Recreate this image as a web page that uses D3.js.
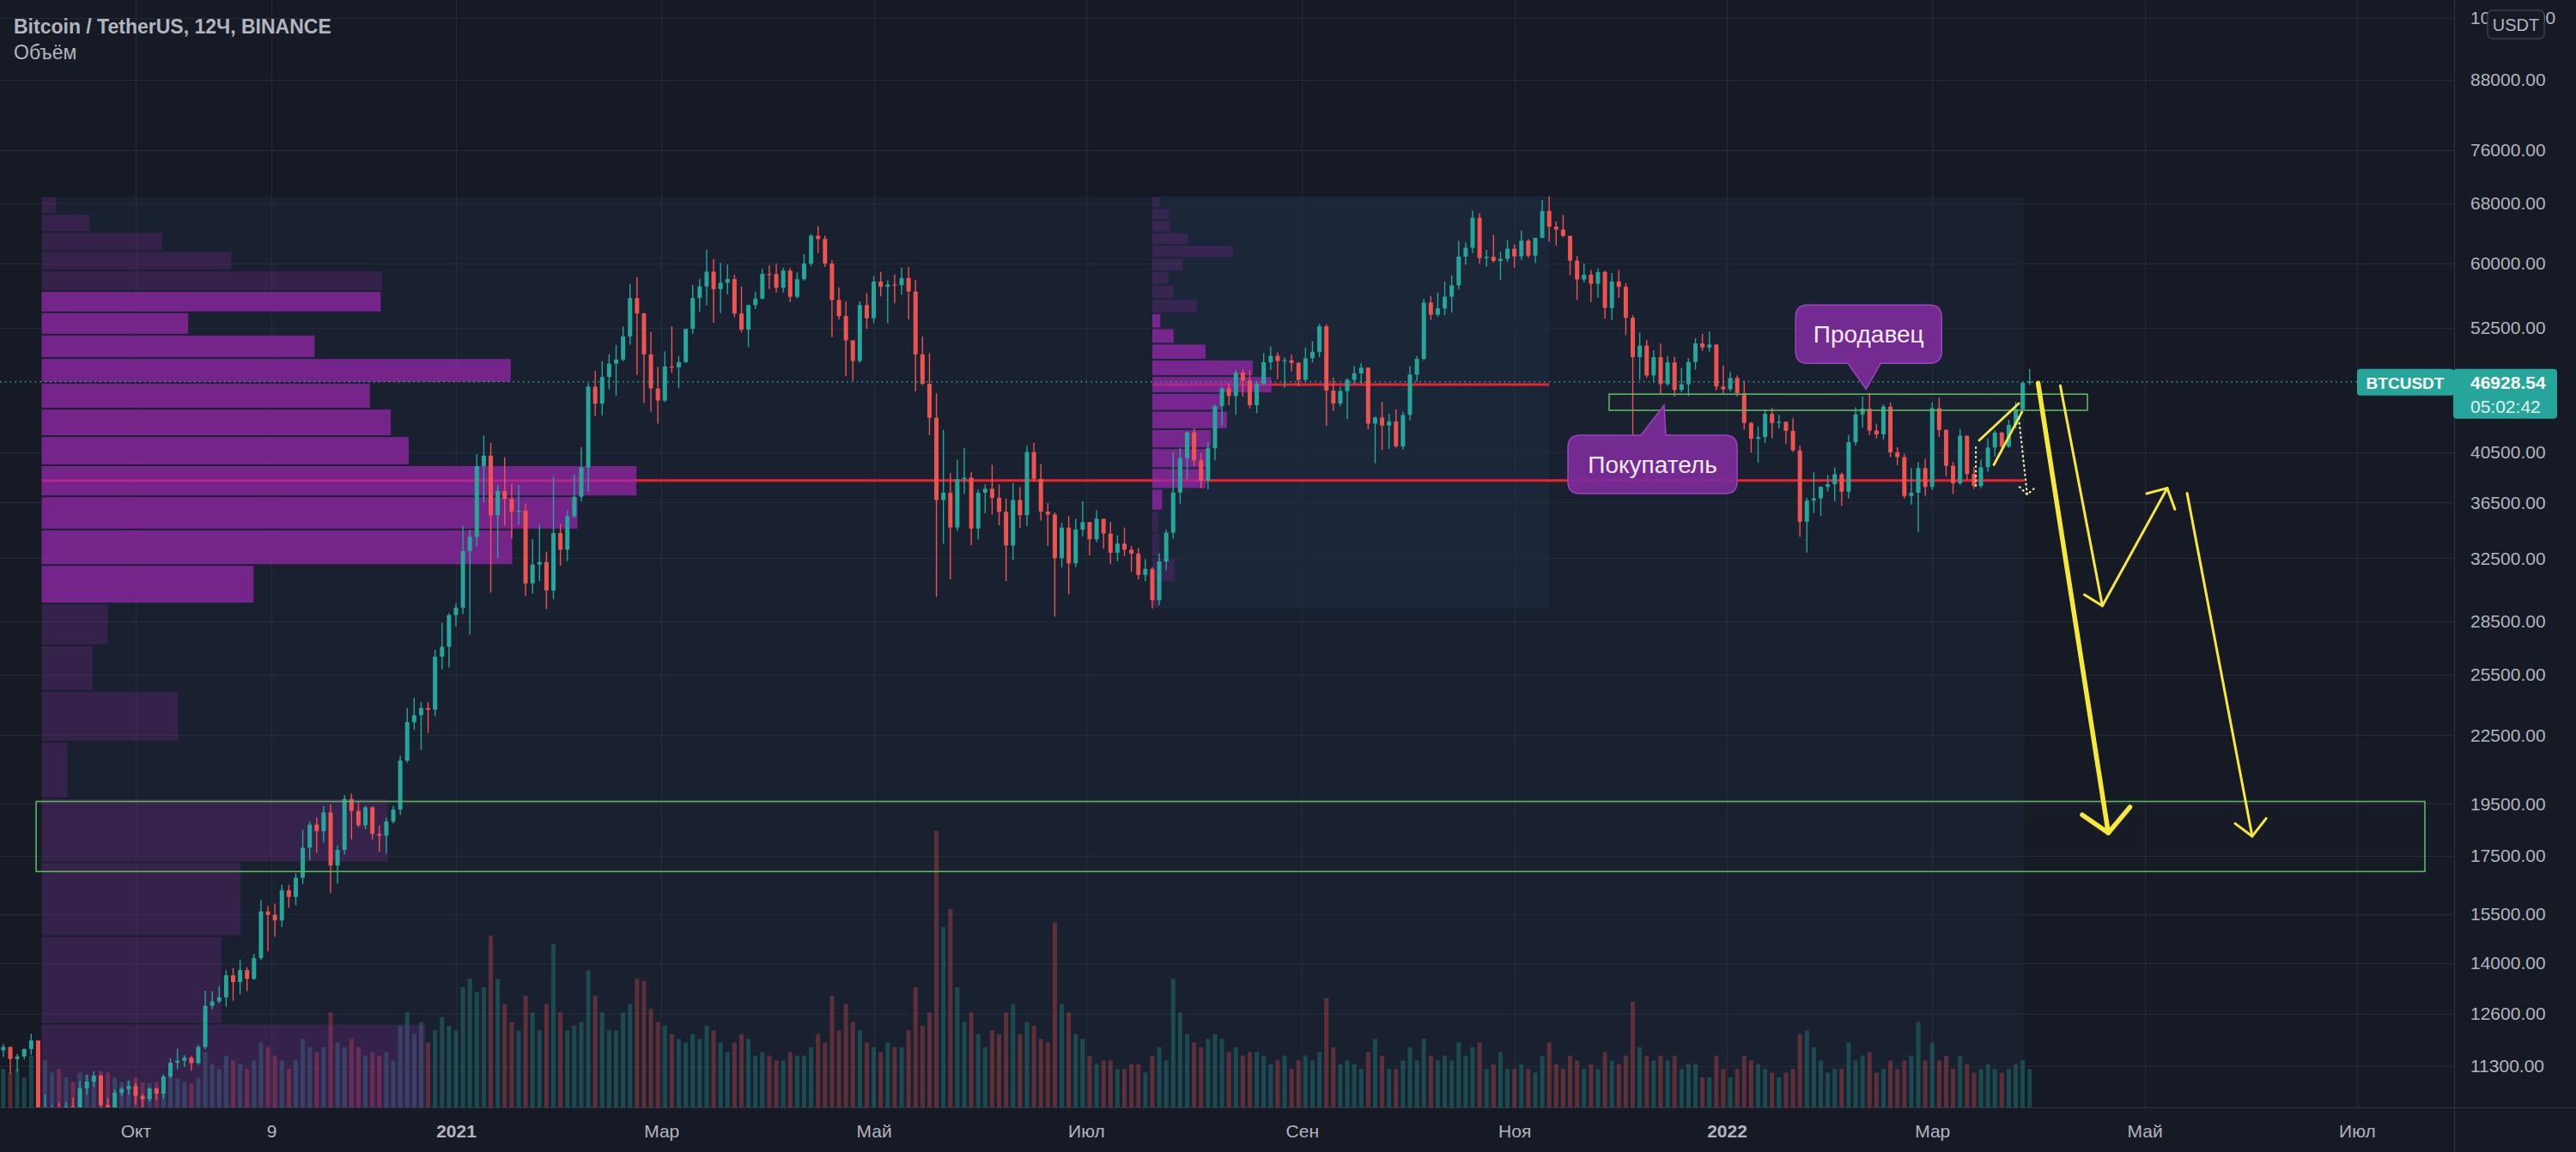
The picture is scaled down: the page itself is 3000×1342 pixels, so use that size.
<!DOCTYPE html>
<html><head><meta charset="utf-8">
<script src="https://cdn.jsdelivr.net/npm/d3@7/dist/d3.min.js"></script>
<style>
html,body{margin:0;padding:0;background:#161a25;overflow:hidden}
svg{display:block}
text{font-family:"Liberation Sans",Arial,sans-serif}
</style></head><body>
<svg id="chart" width="3000" height="1342"></svg>
<script>
// ---------- DATA ----------
const title = "Bitcoin / TetherUS, 12Ч, BINANCE";
const subTitle = "Объём";
const symbol = "BTCUSDT";
const currency = "USDT";
const lastPrice = 46928.54;
const countdown = "05:02:42";

// 2-day candles starting 2020-08-23 (open of first = previous close)
const candleStart = "2020-08-23";
const firstOpen = 11680;
const closes = [
11760,11470,11530,11710,11920,10170,10170,10370,10230,10390,
10330,10790,10940,11080,10420,10240,10690,10775,10840,10620,
10550,10790,10670,11060,11380,11430,11500,11370,11760,12810,
12930,13040,13650,13460,13800,13550,14150,15590,15480,15300,
16290,16070,16720,17800,18680,18420,19160,17150,17720,19700,
19220,18650,19360,18320,18250,18800,19270,21340,23110,23450,
23800,23720,26490,27040,28880,29330,33000,33990,39370,40240,
35540,37390,36770,35800,35890,30850,32080,32250,30400,34250,
33090,35470,36940,39260,46450,44840,47390,48720,49140,51570,
55850,54090,49680,46280,45130,48440,48370,48880,52380,55850,
57220,59000,56900,57660,58100,54080,52300,55040,55780,58730,
58720,57060,59130,56000,58090,60000,63580,63160,60000,55630,
53790,51150,49000,55040,53560,57800,57170,57440,57360,58230,
56610,49680,46720,43540,36690,37250,34650,38320,38440,34580,
37250,37560,36860,35800,33380,36690,35550,40530,38350,35820,
35600,32510,34640,32160,34500,35040,33810,35290,34220,32880,
33510,33090,32820,31390,31790,29790,32290,34290,37270,40030,
42240,39850,38200,40870,44610,46290,45550,47830,47050,44700,
46720,48870,49520,48990,49070,48810,47110,49280,49940,52660,
46080,44850,46030,47110,47750,48310,43010,43560,42840,43210,
41030,43790,47640,49220,55320,53950,54660,56010,57350,60880,
62010,66000,60690,60860,60330,60590,61890,60910,62930,61000,
63300,66940,64800,64390,63560,60370,58050,58620,57540,58960,
54720,57810,57180,53600,49400,50590,47550,49390,46700,48860,
46130,46680,48900,50820,50400,50700,46460,46200,47290,45830,
43080,41680,41820,43900,43070,43180,42370,40680,35070,36650,
36820,37710,37920,38710,37330,41380,43840,44370,42390,42060,
44560,40520,40120,37000,37250,39210,37700,44420,42450,39400,
37990,41940,38730,37780,39280,40920,42200,41000,42890,44310,
46820,46928.54];
const highs = [
11830,11770,11590,11720,12090,11930,10650,10420,10470,10480,
10580,10950,11100,11180,11100,10580,10770,10820,10950,10920,
10660,10800,10800,11110,11490,11720,11560,11540,11820,13220,
13200,13350,13790,13860,14100,13880,14270,15970,15770,15840,
16480,16480,16880,18480,18800,18960,19420,19480,17880,19860,
19920,19570,19420,19400,18640,18950,19410,21560,23800,24300,
24100,24100,26870,28420,29000,29600,34780,34500,40360,41950,
41350,37860,40100,37950,37850,36420,33830,34880,32950,38500,
34930,35900,38700,40950,46800,48000,48980,49700,50650,52640,
57500,58350,54180,52040,48400,50000,52640,49500,52400,57400,
58150,61780,60600,60100,59880,58600,57200,55100,56600,59370,
59800,60000,59500,59450,58900,61200,63800,64850,63600,60400,
57100,55450,51150,55470,56430,58450,58980,57970,58650,59500,
59600,58000,51550,49800,45800,42450,38800,39900,40900,38900,
37500,37900,39480,37900,36800,38000,37680,41060,41330,39550,
36450,35750,35000,35480,35300,36600,35050,35950,35300,35050,
34100,34650,33350,33200,32450,31900,32850,34500,40550,40900,
42320,42600,40500,41400,44750,46450,46800,48100,48150,48050,
47000,49800,50500,49880,49350,49650,48900,50400,51050,52920,
52900,47350,46450,47250,48480,48800,48370,43650,45000,43900,
44300,44100,48500,49500,55750,56100,56500,57800,58550,62930,
62700,67000,66650,61750,63700,61500,62970,62450,64270,63150,
63300,68500,69000,65500,66400,63600,60950,60000,59200,59400,
59150,58850,59200,57600,53900,51950,51200,50100,50800,49500,
49450,48300,49300,51380,51850,52090,50700,48550,47950,47550,
47050,43150,42750,44300,44450,43800,43200,43500,41100,36850,
38900,37750,38650,39250,38850,42000,44500,45500,45850,43000,
44750,44950,40950,40400,39250,39700,40000,44950,45400,42500,
39700,42550,41950,39300,39900,41700,42400,42300,43350,45000,
46950,48190];
const lows = [
11520,11120,11170,11460,11570,10000,9880,9880,9860,10130,
10210,10260,10650,10830,10370,10140,10200,10620,10650,10430,
10370,10500,10530,10560,11020,11230,11280,11200,11330,11700,
12720,12880,12790,12950,13120,13210,13520,14090,14350,14800,
15100,15710,15790,16500,17340,17610,18000,16200,16520,17550,
18110,18580,18500,18100,17650,17580,18720,19050,21240,22750,
21820,22600,23400,25800,25900,28200,28950,27730,33300,36500,
30260,32530,34800,33850,34850,30070,30200,31000,29240,29850,
32000,32300,35380,36570,37350,43700,43740,46200,45600,48950,
50700,47620,44900,44100,43000,45000,47800,46300,48800,51850,
54300,55000,53050,54120,56300,53650,52000,50430,54600,55700,
56900,56500,56500,55400,55800,57900,59700,61300,59580,51500,
53400,47500,47000,48800,52400,53000,56050,53000,55250,56240,
53400,46000,46600,42000,30000,33500,31100,34400,37150,33400,
33800,35700,35600,34800,31000,32400,34600,34750,38100,35150,
33350,28800,31900,30150,31900,34030,32700,33600,33150,32100,
32300,32650,31600,31100,31000,29280,29500,31700,33850,36400,
38300,39400,37600,37500,39850,42800,44700,43800,45500,44400,
43950,46600,48100,47150,46350,47950,46500,46950,48850,49400,
42800,44150,44600,43400,46700,46750,42500,39600,40700,40800,
40900,40750,43300,46950,49050,53350,53700,53900,54200,56850,
59850,61350,60000,59600,60100,58000,60200,59500,60400,60700,
60100,63250,62800,62300,63400,58550,55600,57700,55400,55900,
53500,53350,55900,51700,42000,47100,47300,46850,45700,46550,
45500,45900,45550,48100,50050,49950,46100,45700,46000,45500,
42500,40500,39650,41300,41700,42600,41250,40550,34000,32900,
35700,35500,37350,36600,36250,36800,41100,42650,42000,41700,
41600,40100,39450,36800,36350,34320,37000,37450,41850,38550,
37150,37850,38250,37550,37600,38900,40150,40450,40900,42550,
44250,46600];
// volume, thousand BTC (peak 12H bar within each 2-day slot)
const volumes = [
32,29,32,25,43,54,39,29,32,25,
21,29,27,25,30,29,25,21,23,25,
21,20,21,25,27,24,21,20,25,46,
36,32,43,39,36,32,39,54,50,43,
39,32,39,57,50,46,50,79,54,50,
57,50,43,46,43,46,39,68,79,61,
71,54,64,75,68,64,100,107,96,100,
143,107,86,71,64,93,79,64,86,136,
79,64,68,71,114,93,79,64,64,79,
86,107,105,82,71,68,61,57,54,61,
57,68,64,54,46,54,61,57,43,46,
43,39,39,46,43,43,50,61,54,93,
64,86,71,64,54,50,46,54,50,50,
64,100,68,79,230,150,165,100,71,79,
61,50,64,61,79,86,61,71,68,57,
54,154,86,79,61,57,43,36,39,39,
32,32,36,36,29,43,50,39,107,79,
61,54,50,57,61,57,46,50,43,46,
46,43,36,39,43,32,39,43,39,46,
91,50,36,39,36,32,46,57,43,32,
32,39,50,39,57,43,39,43,39,54,
43,50,54,32,36,46,32,32,36,32,
29,43,54,36,32,43,39,32,36,32,
46,39,36,43,88,50,43,39,43,39,
43,32,36,36,25,25,43,32,25,32,
43,39,36,32,29,25,29,32,61,64,
50,39,29,32,32,54,39,43,46,29,
32,39,32,39,43,71,39,54,39,43,
32,43,36,29,32,36,32,29,32,36,
39,32];

const priceTicks = [100000,88000,76000,68000,60000,52500,40500,36500,32500,28500,25500,22500,19500,17500,15500,14000,12600,11300];
const timeTickDates = ["2020-10-01","2020-11-09","2021-01-01","2021-03-01","2021-05-01","2021-07-01","2021-09-01","2021-11-01","2022-01-01","2022-03-01","2022-05-01","2022-07-01"];
const timeTickLabels = ["Окт","9","2021","Мар","Май","Июл","Сен","Ноя","2022","Мар","Май","Июл"];

// fixed-range volume profiles (rows bottom -> top)
const vpLeftTime = ["2020-09-04T00:00Z","2022-03-27T12:00Z"];
const vpLeftPrice = [9880, 69000];
const vpLeftVol = [534,250,277,482,36,190,71,92,295,655,746,828,511,486,457,653,380,204,472,474,264,168,67,20];
const vpLeftVA = [8,18];
const vpMidTime = ["2021-07-20T00:00Z","2021-11-11T00:00Z"];
const vpMidPrice = [29280, 69000];
const vpMidVol = [8,25,8,7,11,60,65,66,84,77,134,113,60,24,9,50,24,18,34,91,40,20,19,8];
const vpMidVA = [4,14];

// drawings
const zoneStart = ["2021-11-28T05:00Z","2020-09-02T10:00Z"];
const zoneEnd   = ["2022-04-14T14:00Z","2022-07-20T12:00Z"];
const zoneLow   = [44220,16940];
const zoneHigh  = [45730,19600];

const arrowThick = [["2022-03-31T10:00Z",46790],["2022-04-20T14:00Z",18360]];
const arrowThickHead = [["2022-04-13T02:00Z",19060],["2022-04-20T14:00Z",18360],["2022-04-26T19:00Z",19370]];
const arrowZig = [["2022-04-06T19:00Z",46540],["2022-04-18T21:00Z",29440],["2022-05-07T12:00Z",37610]];
const arrowZigWing = [["2022-04-13T17:00Z",30130],["2022-04-18T21:00Z",29440]];
const arrowZigHead = [["2022-05-01T14:00Z",37190],["2022-05-07T12:00Z",37610],["2022-05-09T17:00Z",35990]];
const arrowRight = [["2022-05-13T05:00Z",37210],["2022-05-31T22:00Z",18230]];
const arrowRightHead = [["2022-05-27T00:00Z",18720],["2022-05-31T22:00Z",18230],["2022-06-04T22:00Z",18920]];
const wedgeUpper = [["2022-03-14T12:00Z",41540],["2022-03-25T21:00Z",44860]];
const wedgeLower = [["2022-03-18T17:00Z",39480],["2022-03-26T19:00Z",44070]];
const dottedPath = [["2022-03-25T21:00Z",43500],["2022-03-28T07:00Z",37110]];
const dottedHead = [["2022-03-26T02:00Z",37710],["2022-03-28T07:00Z",37110],["2022-03-30T19:00Z",37710]];
const dottedSmall = [["2022-03-13T13:00Z",40950],["2022-03-13T13:00Z",37790]];

const calloutText = ["Продавец","Покупатель"];
const calloutTip = [["2022-02-10T00:00Z",46210],["2021-12-14T00:00Z",44690]];

// ---------- LAYOUT ----------
const W = 3000, H = 1342, plotR = 2858, plotB = 1290;
const UP = "#26a69a", DN = "#ef5350";
const BG = "#161a25", GRID = "#262b38", TXT = "#b2b5be";
const FONT = '"Liberation Sans", Arial, sans-serif';

const x = d3.scaleUtc().domain([new Date("2021-01-01T00:00Z"), new Date("2022-01-01T00:00Z")]).range([531, 2011]);
const y = d3.scaleLog().domain([11300, 68000]).range([1242, 237]);
const yVol = d3.scaleLinear().domain([0, 200]).range([plotB, plotB - 280]);
const P = p => [x(new Date(p[0])), y(p[1])];

const svg = d3.select("#chart");
svg.append("rect").attr("width", W).attr("height", H).attr("fill", BG);

const defs = svg.append("defs");
defs.append("clipPath").attr("id", "plotClip").append("rect").attr("x", 0).attr("y", 0).attr("width", plotR).attr("height", plotB);

const plot = svg.append("g").attr("clip-path", "url(#plotClip)");

// shaded range backgrounds
[[vpLeftTime, vpLeftPrice], [vpMidTime, vpMidPrice]].forEach(([t, p]) => {
  const x0 = x(new Date(t[0])), x1 = x(new Date(t[1]));
  plot.append("rect").attr("x", x0).attr("width", x1 - x0)
    .attr("y", y(p[1])).attr("height", y(p[0]) - y(p[1]))
    .attr("fill", "rgb(60,110,160)").attr("fill-opacity", 0.085);
});

// grid
const tickDates = timeTickDates.map(d => new Date(d + "T00:00Z"));
plot.append("g").selectAll("line").data(priceTicks).join("line")
  .attr("x1", 0).attr("x2", plotR).attr("y1", d => Math.round(y(d)) + 0.5).attr("y2", d => Math.round(y(d)) + 0.5)
  .attr("stroke", GRID).attr("stroke-width", 1);
plot.append("g").selectAll("line").data(tickDates).join("line")
  .attr("y1", 0).attr("y2", plotB).attr("x1", d => Math.round(x(d)) + 0.5).attr("x2", d => Math.round(x(d)) + 0.5)
  .attr("stroke", GRID).attr("stroke-width", 1);

// candles data
const t0 = new Date(candleStart + "T00:00Z").getTime(), DAY = 864e5;
const candles = closes.map((c, i) => ({
  t: new Date(t0 + (2 * i + 1) * DAY), o: i ? closes[i - 1] : firstOpen,
  h: highs[i], l: lows[i], c, v: volumes[i]
}));

// volume
plot.append("g").selectAll("rect").data(candles).join("rect")
  .attr("x", d => x(d.t) - 2.5).attr("width", 5)
  .attr("y", d => yVol(d.v)).attr("height", d => plotB - yVol(d.v))
  .attr("fill", d => d.c >= d.o ? UP : DN).attr("fill-opacity", 0.32);

// volume profiles
function profile(t, p, vols, va) {
  const x0 = x(new Date(t[0])), x1 = x(new Date(t[1]));
  const step = (p[1] - p[0]) / vols.length;
  const w = d3.scaleLinear().domain([0, d3.max(vols)]).range([0, 0.3 * (x1 - x0)]);
  const poc = vols.indexOf(d3.max(vols));
  const pocPrice = p[0] + (poc + 0.5) * step;
  plot.append("line").attr("x1", x0).attr("x2", x1).attr("y1", y(pocPrice)).attr("y2", y(pocPrice))
    .attr("stroke", "#f0202e").attr("stroke-width", 3);
  const rows = vols.map((v, k) => ({ v, k, lo: p[0] + k * step, hi: p[0] + (k + 1) * step }));
  plot.append("g").selectAll("rect").data(rows).join("rect")
    .attr("x", x0).attr("width", d => w(d.v))
    .attr("y", d => y(d.hi) + 1).attr("height", d => Math.max(1, y(d.lo) - y(d.hi) - 2))
    .attr("fill", "#9c27b0").attr("fill-opacity", d => (d.k >= va[0] && d.k <= va[1]) ? 0.7 : 0.22);
}
profile(vpLeftTime, vpLeftPrice, vpLeftVol, vpLeftVA);
profile(vpMidTime, vpMidPrice, vpMidVol, vpMidVA);

// candles
const cg = plot.append("g");
cg.selectAll("line").data(candles).join("line")
  .attr("x1", d => x(d.t)).attr("x2", d => x(d.t)).attr("y1", d => y(d.h)).attr("y2", d => y(d.l))
  .attr("stroke", d => d.c >= d.o ? UP : DN).attr("stroke-width", 1.4);
cg.selectAll("rect").data(candles).join("rect")
  .attr("x", d => x(d.t) - 2.5).attr("width", 5)
  .attr("y", d => y(Math.max(d.o, d.c))).attr("height", d => Math.max(1.2, Math.abs(y(d.o) - y(d.c))))
  .attr("fill", d => d.c >= d.o ? UP : DN);

// current price dotted line
plot.append("line").attr("x1", 0).attr("x2", plotR).attr("y1", y(lastPrice)).attr("y2", y(lastPrice))
  .attr("stroke", UP).attr("stroke-width", 1.6).attr("stroke-dasharray", "1.6,4.2");

// green zones
plot.append("g").selectAll("rect").data(zoneStart.map((s, i) => i)).join("rect")
  .attr("x", i => x(new Date(zoneStart[i]))).attr("width", i => x(new Date(zoneEnd[i])) - x(new Date(zoneStart[i])))
  .attr("y", i => y(zoneHigh[i])).attr("height", i => y(zoneLow[i]) - y(zoneHigh[i]))
  .attr("fill", "#4caf50").attr("fill-opacity", 0.012).attr("stroke", "#5cb85f").attr("stroke-width", 1.6);

// callouts
const cg2 = plot.append("g");
function callout(text, tip, down, box) {
  const [tx, ty] = P(tip);
  const l = tx + box.l, R = tx + box.r, r = 14;
  const t = ty + box.t, B = ty + box.b;
  let path;
  if (down) {
    path = `M${l + r},${t} H${R - r} Q${R},${t} ${R},${t + r} V${B - r} Q${R},${B} ${R - r},${B} H${tx + box.b2} L${tx},${ty} L${tx + box.b1},${B} H${l + r} Q${l},${B} ${l},${B - r} V${t + r} Q${l},${t} ${l + r},${t} Z`;
  } else {
    path = `M${l + r},${t} H${tx + box.b1} L${tx},${ty} L${tx + box.b2},${t} H${R - r} Q${R},${t} ${R},${t + r} V${B - r} Q${R},${B} ${R - r},${B} H${l + r} Q${l},${B} ${l},${B - r} V${t + r} Q${l},${t} ${l + r},${t} Z`;
  }
  cg2.append("path").attr("d", path).attr("fill", "#7b2c99").attr("fill-opacity", 0.93)
    .attr("stroke", "#9a46bb").attr("stroke-width", 1.5);
  cg2.append("text").attr("x", (l + R) / 2).attr("y", (t + B) / 2 + 10).attr("text-anchor", "middle")
    .attr("font-family", FONT).attr("font-size", 28).attr("fill", "#f3eaf7").text(text);
}
callout(calloutText[0], calloutTip[0], true, { l: -82, r: 88, t: -98, b: -30, b1: -21, b2: 17 });
callout(calloutText[1], calloutTip[1], false, { l: -112, r: 85, t: 35, b: 103, b1: -27, b2: 2 });

// yellow drawings
const YEL = "#f7e93a";
const line = d3.line().x(d => P(d)[0]).y(d => P(d)[1]);
const dg = plot.append("g").attr("fill", "none").attr("stroke", YEL).attr("stroke-linecap", "round").attr("stroke-linejoin", "round");
dg.append("path").attr("d", line(arrowThick)).attr("stroke-width", 5.5);
dg.append("path").attr("d", line(arrowThickHead)).attr("stroke-width", 5.5);
[arrowZig, arrowZigWing, arrowZigHead, arrowRight, arrowRightHead].forEach(a =>
  dg.append("path").attr("d", line(a)).attr("stroke-width", 3));
[wedgeUpper, wedgeLower].forEach(a => dg.append("path").attr("d", line(a)).attr("stroke-width", 2.8));
[dottedPath, dottedHead, dottedSmall].forEach(a =>
  dg.append("path").attr("d", line(a)).attr("stroke-width", 2.2).attr("stroke-dasharray", "1,4.5").attr("stroke", "#f0eaa0"));

// borders
svg.append("line").attr("x1", 0).attr("x2", W).attr("y1", plotB + 0.5).attr("y2", plotB + 0.5).attr("stroke", "#2f3441");
svg.append("line").attr("x1", plotR + 0.5).attr("x2", plotR + 0.5).attr("y1", 0).attr("y2", H).attr("stroke", "#2f3441");

// price axis
const ya = svg.append("g").attr("transform", `translate(${plotR},0)`)
  .call(d3.axisRight(y).tickValues(priceTicks).tickFormat(d => d.toFixed(2)).tickSize(0).tickPadding(19));
ya.select(".domain").remove();
ya.selectAll("text").attr("font-family", FONT).attr("font-size", 21).attr("fill", TXT);

// time axis
const xa = svg.append("g").attr("transform", `translate(0,${plotB})`)
  .call(d3.axisBottom(x).tickValues(tickDates).tickFormat((d, i) => timeTickLabels[i]).tickSize(0).tickPadding(20));
xa.select(".domain").remove();
xa.selectAll("text").attr("font-family", FONT).attr("font-size", 21).attr("fill", TXT)
  .attr("font-weight", (d, i) => /^\d{4}$/.test(timeTickLabels[i]) ? "bold" : "normal");

// currency box (sits over the top price label, as in the source chart)
svg.append("rect").attr("x", 2897).attr("y", 12).attr("width", 66).attr("height", 33).attr("rx", 6)
  .attr("fill", BG).attr("stroke", "#3a3f4c").attr("stroke-width", 1.5);
svg.append("text").attr("x", 2930).attr("y", 36).attr("text-anchor", "middle").attr("font-family", FONT)
  .attr("font-size", 20).attr("fill", TXT).text(currency);

// last price labels
const yp = y(lastPrice);
svg.append("rect").attr("x", 2745).attr("y", yp - 15).attr("width", 113).attr("height", 31).attr("rx", 4).attr("fill", UP);
svg.append("text").attr("x", 2801).attr("y", yp + 8).attr("text-anchor", "middle").attr("font-family", FONT)
  .attr("font-size", 19).attr("font-weight", "bold").attr("fill", "#ffffff").text(symbol);
svg.append("rect").attr("x", 2857).attr("y", yp - 15).attr("width", 121).attr("height", 58).attr("rx", 4).attr("fill", UP);
svg.append("text").attr("x", 2877).attr("y", yp + 8).attr("font-family", FONT)
  .attr("font-size", 21).attr("font-weight", "bold").attr("fill", "#ffffff").text(lastPrice.toFixed(2));
svg.append("text").attr("x", 2877).attr("y", yp + 36).attr("font-family", FONT)
  .attr("font-size", 21).attr("fill", "#e3f4f2").text(countdown);

// titles
svg.append("text").attr("x", 16).attr("y", 39).attr("font-family", FONT).attr("font-size", 23)
  .attr("font-weight", "bold").attr("fill", TXT).text(title);
svg.append("text").attr("x", 16).attr("y", 69).attr("font-family", FONT).attr("font-size", 23)
  .attr("fill", TXT).text(subTitle);
</script></body></html>
